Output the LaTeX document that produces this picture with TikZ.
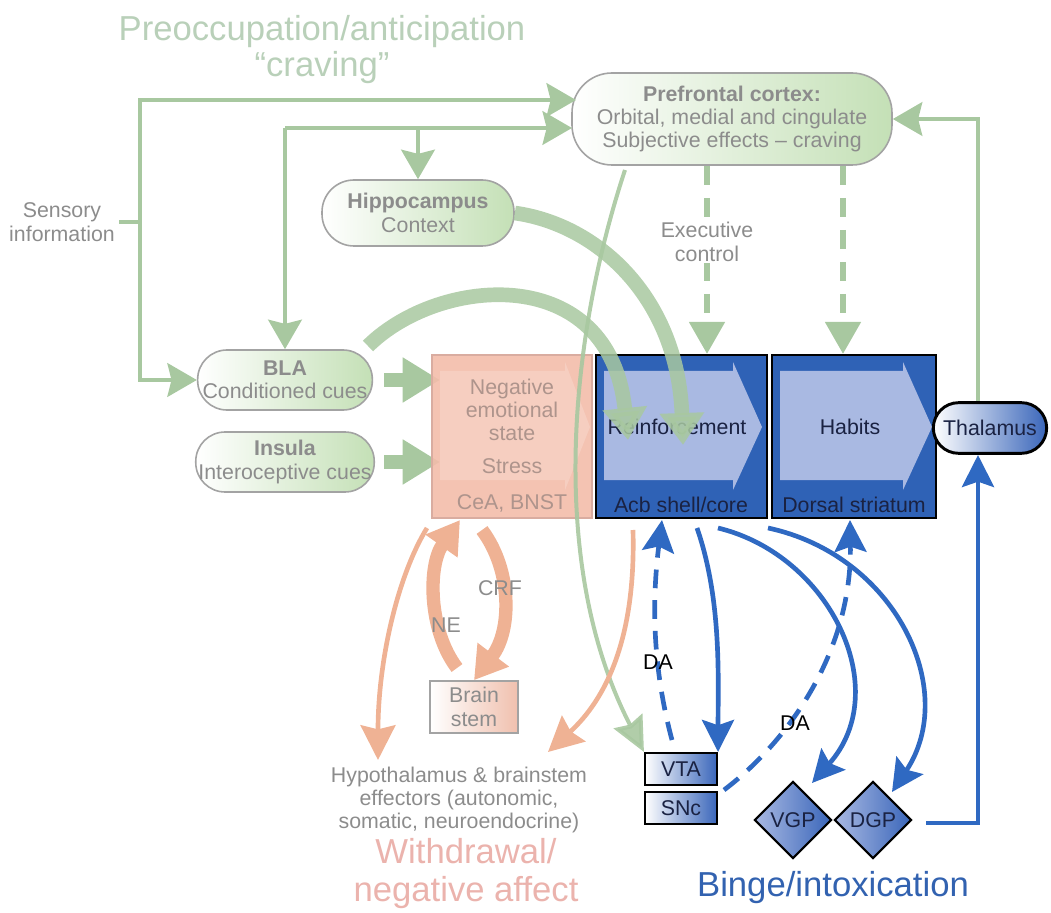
\documentclass[tikz,border=0pt]{standalone}
\usepackage{fontspec}
\setmainfont{Liberation Sans}
\usetikzlibrary{arrows.meta,shapes.geometric,calc}
\definecolor{gline}{HTML}{A8C8A0}
\definecolor{gfill}{HTML}{C4E0B6}
\definecolor{gbord}{HTML}{A3A3A3}
\definecolor{gtext}{HTML}{8C8C8C}
\definecolor{ttl}{HTML}{B9D0B9}
\definecolor{salm}{HTML}{EFB294}
\definecolor{negfill}{HTML}{F3BCAA}
\definecolor{negin}{HTML}{F7D2C4}
\definecolor{negbord}{HTML}{D9ACA0}
\definecolor{negtext}{HTML}{AE948C}
\definecolor{bsfill}{HTML}{F0C0AE}
\definecolor{bbox}{HTML}{2F62B6}
\definecolor{bin}{HTML}{A9B9E2}
\definecolor{barr}{HTML}{2F69C2}
\definecolor{btext}{HTML}{1A2242}
\definecolor{bshade}{HTML}{3A66BA}
\definecolor{wdr}{HTML}{EBB3AD}
\definecolor{binge}{HTML}{3262B0}
\tikzset{
 gnode/.style={draw=gbord, line width=1.2pt, left color=white, right color=gfill, text=gtext, align=center, inner sep=2pt},
 garr/.style={draw=gline, line width=3.6pt, -{Stealth[length=22pt,width=25pt,inset=3pt]}},
 gline/.style={draw=gline, line width=3.6pt},
 gthick/.style={draw=gline, line width=11pt, opacity=0.85, -{Triangle[length=24pt,width=32pt]}},
 gblock/.style={draw=gline, line width=10pt, -{Triangle[length=28pt,width=32pt]}},
 gdasharr/.style={draw=gline, line width=4.5pt, dash pattern=on 14pt off 10pt, -{Triangle[length=24pt,width=26pt]}},
 sarr/.style={draw=salm, line width=3.5pt, -{Stealth[length=26pt,width=26pt,inset=3pt]}},
 sthick/.style={draw=salm, line width=10pt, -{Triangle[length=24pt,width=28pt]}},
 barrow/.style={draw=barr, line width=3.5pt, -{Stealth[length=24pt,width=24pt,inset=4pt]}},
 bdash/.style={barrow, dash pattern=on 14pt off 9pt},
 bluebox/.style={draw=black, line width=1.6pt, fill=bbox},
 smallbox/.style={draw=black, line width=1.6pt, left color=white, right color=bshade, text=btext, minimum width=54pt, minimum height=24pt, inner sep=0pt},
 dia/.style={diamond, draw=black, line width=1.6pt, left color=bin, right color=bshade, text=btext, minimum size=58pt, inner sep=0pt},
 lbl/.style={text=gtext, align=center},
}
\begin{document}
\begin{tikzpicture}[x=0.75pt,y=-0.75pt, font=\fontsize{16}{17.5}\selectfont, line cap=butt]
\useasboundingbox (0,0) rectangle (1051,913);

% title
\node[text=ttl, font=\fontsize{26}{27}\selectfont, align=center] (title) at (322,50) {Preoccupation/anticipation\\“craving”};

% green nodes
\node[gnode, minimum width=240pt, minimum height=69pt, rounded corners=30pt] (pfc) at (732,119) {\textbf{Prefrontal cortex:}\\Orbital, medial and cingulate\\Subjective effects – craving};
\node[gnode, minimum width=144pt, minimum height=49.5pt, rounded corners=24pt] (hip) at (418,213) {\textbf{Hippocampus}\\Context};
\node[gnode, minimum width=131pt, minimum height=45pt, rounded corners=22pt] (bla) at (285,380) {\textbf{BLA}\\Conditioned cues};
\node[gnode, minimum width=131pt, minimum height=45pt, rounded corners=22pt] (ins) at (285,462) {\textbf{Insula}\\Interoceptive cues};
\node[lbl] (sens) at (62,222) {Sensory\\information};

% green connectors at top
\coordinate (j1) at (140,222);
\coordinate (pfcA) at (576,100);
\coordinate (pfcB) at (572,128);
\coordinate (j2) at (285,128);
\coordinate (j3) at (418,128);
\coordinate (t1) at (978,403);
\draw[gline] (sens.east) -- (j1);
\draw[garr] (j1) |- (pfcA);
\draw[garr] (j1) |- (bla.west);
\draw[garr] (j2) -- (pfcB);
\draw[garr] (j2) -- (bla.north);
\draw[garr] (j3) -- (hip.north);
\draw[garr] (t1) |- (pfc.east);

% block arrows into negative box
\coordinate (n1) at (384,380);
\coordinate (n2) at (440,380);
\coordinate (n3) at (384,462);
\coordinate (n4) at (440,462);
\draw[gblock] (n1) -- (n2);
\draw[gblock] (n3) -- (n4);

% negative emotional state box
\node[draw=negbord, line width=1.2pt, fill=negfill, fill opacity=0.9, minimum width=120pt, minimum height=122.25pt, inner sep=0pt] (neg) at (512,436.5) {};
\fill[negin, opacity=0.8] (440,371) -- (565,371) -- (565,362) -- (590,427) -- (565,490) -- (565,480) -- (440,480) -- cycle;
\node[text=negtext, align=center] (negt) at (512,410) {Negative\\emotional\\state};
\node[text=negtext] (stress) at (512,466) {Stress};
\node[text=negtext] (cea) at (512,503) {CeA, BNST};

% blue boxes
\node[bluebox, minimum width=128.25pt, minimum height=122.25pt, inner sep=0pt] (acb) at (681.5,436.5) {};
\fill[bin] (604,371) -- (733,371) -- (733,362) -- (762,427) -- (733,490) -- (733,480) -- (604,480) -- cycle;
\node[text=btext] (reinf) at (677,427) {Reinforcement};
\node[text=btext] (acbt) at (681,505) {Acb shell/core};
\node[bluebox, minimum width=123pt, minimum height=122.25pt, inner sep=0pt] (dor) at (854,436.5) {};
\fill[bin] (780,371) -- (903,371) -- (903,362) -- (932,427) -- (903,490) -- (903,480) -- (780,480) -- cycle;
\node[text=btext] (habits) at (850,427) {Habits};
\node[text=btext] (dort) at (854,505) {Dorsal striatum};

% thalamus
\node[draw=black, line width=2.2pt, left color=white, right color=bshade, text=btext, minimum width=85pt, minimum height=38pt, rounded corners=19pt, inner sep=0pt] (thal) at (990,428) {Thalamus};

% small boxes and diamonds
\node[smallbox] (vta) at (681,769) {VTA};
\node[smallbox] (snc) at (681,808) {SNc};
\node[dia] (vgp) at (793,820) {VGP};
\node[dia] (dgp) at (873,820) {DGP};

% thin green curve PFC -> VTA
\coordinate (p1) at (625,170);
\draw[draw=gline, line width=3pt, opacity=0.9, -{Stealth[length=26pt,width=24pt,inset=3pt]}] (p1) .. controls (572,330) and (545,560) .. (vta.north west);

% thick green curved arrows
\coordinate (b1) at (368,346);
\coordinate (b2) at (628,440);
\coordinate (h2) at (683,445);
\draw[gthick] (b1) .. controls (440,275) and (610,262) .. (b2);
\draw[gthick] (hip.east) .. controls (600,225) and (678,300) .. (h2);

% executive control
\coordinate (e1) at (707,166);
\coordinate (e2) at (843,166);
\draw[gdasharr] (e1) -- (e1 |- acb.north);
\draw[gdasharr] (e2) -- (e2 |- dor.north);
\node[lbl, fill=white, inner sep=1pt] (exec) at (707,242) {Executive\\control};

% withdrawal arrows
\coordinate (s1) at (427,528);
\coordinate (s2) at (378,760);
\coordinate (s3) at (633,530);
\coordinate (s4) at (548,752);
\draw[sarr] (s1) .. controls (398,575) and (378,660) .. (s2);
\draw[sarr] (s3) .. controls (636,640) and (605,700) .. (s4);
\node[draw=gbord, line width=1.2pt, left color=white, right color=bsfill, text=gtext, align=center, minimum width=66pt, minimum height=39pt, inner sep=0pt] (bs) at (474,707) {Brain\\stem};
\coordinate (ne1) at (457,668);
\coordinate (ne2) at (460,520);
\coordinate (cr1) at (482,530);
\draw[sthick] (ne1) .. controls (428,630) and (428,565) .. (ne2);
\draw[sthick] (cr1) .. controls (512,570) and (512,630) .. (bs.north);
\node[text=gtext] (crf) at (500,588) {CRF};
\node[text=gtext] (ne) at (446,625) {NE};

% blue connectors
\coordinate (d1) at (672,740);
\coordinate (d2) at (662,520);
\draw[bdash] (d1) .. controls (652,665) and (652,600) .. (d2);
\node[text=black] (da1) at (658,662) {DA};
\coordinate (a1) at (697,528);
\draw[barrow] (a1) .. controls (722,600) and (718,680) .. (vta.north east);
\coordinate (a2) at (718,528);
\coordinate (a3) at (812,783);
\draw[barrow] (a2) .. controls (830,555) and (895,690) .. (a3);
\coordinate (a4) at (768,528);
\coordinate (a5) at (892,792);
\draw[barrow] (a4) .. controls (895,555) and (960,690) .. (a5);
\coordinate (d3) at (724,790);
\coordinate (d4) at (850,520);
\draw[bdash] (d3) .. controls (790,740) and (852,650) .. (d4);
\node[text=black] (da2) at (795,723) {DA};
\coordinate (g1) at (926,823);
\draw[barrow] (g1) -| (978,455);

% section titles
\node[text=wdr, font=\fontsize{26}{28.5}\selectfont, align=center] (wd) at (466,874) {Withdrawal/\\negative affect};
\node[text=gtext, align=center, font=\fontsize{16}{17}\selectfont] (hyp) at (459,800) {Hypothalamus \& brainstem\\effectors (autonomic,\\somatic, neuroendocrine)};
\node[text=binge, font=\fontsize{26}{28}\selectfont] (bi) at (833,888) {Binge/intoxication};
\end{tikzpicture}
\end{document}
